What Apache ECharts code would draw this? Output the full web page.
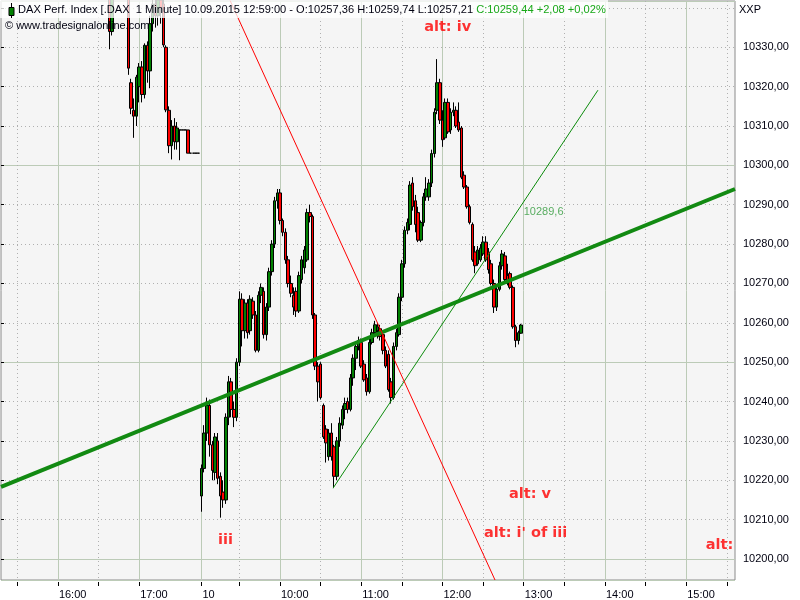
<!DOCTYPE html>
<html><head><meta charset="utf-8">
<script src="https://cdn.jsdelivr.net/npm/echarts@6/dist/echarts.min.js"></script>
<style>html,body{margin:0;padding:0;background:#fff}#c{width:800px;height:600px}</style>
</head><body><div id="c"></div>
<script>
// ---- sessions (2-minute slots) ----
const prevDay = '09.09', today = '10.09';
const prevSession = ['15:18', '17:44'];
const todaySession = ['09:02', '15:36'];
const dayLabel = '10';

// ---- previous day candles, 16:38 .. 17:44 (null = above visible range) ----
const prevFirst = '16:38';
const prevOpen  = [10345,10334,null,null,null,null,null,10345,10321,10314,10312.5,10320,10325,10318,10330.5,10324,10336,10341,10338,10342,10341,10330,10314,10305,10310,10306,10309,10309,10309,10309,10303.1,10303.1,10303.1,10303.1];
const prevHigh  = [10346,10346,null,null,null,null,null,10346,10322,10317,10323,10326,10326.5,10331,10331.5,10338,10344,10344,10345,10345,10344,10330.5,10315,10311.5,10312,10311,10309,10309,10309,10309,10303.1,10303.1,10303.1,10303.1];
const prevLow   = [10329.5,10333,null,null,null,null,null,10323,10313,10307,10310,10316,10316,10317,10321,10319.6,10334,10335,10335.5,10336,10330,10313.5,10303.1,10301.5,10304,10304,10301.3,10309,10309,10303.1,10303.1,10303.1,10303.1,10303.1];
const prevClose = [10334,10345,null,null,null,null,null,10324.7,10314.5,10312.5,10322.4,10325,10318,10330.5,10324,10336,10341,10338,10342,10340,10330.6,10314.1,10305,10310,10306,10309.5,10309,10309,10309,10303.1,10303.1,10303.1,10303.1,10303.1];

// ---- today candles, 09:02 .. 12:58 ----
const todayFirst = '09:02';
const todayOpen = [
 10216,10223,10232,10239,10229,10222,10230,10221,10217,10215,
 10236,10245,10238,10236,10250,10266,10258,10265,10258,10265.5,
 10262,10253,10267,10268,10257,10264,10273,10280,10291,10293,
 10286,10283,10276,10270,10267,10268,10263,10271,10274,10276,
 10288,10287,10262,10249,10249.5,10239,10233,10226,10232,10228.5,
 10221,10230,10234,10238,10240,10238,10246,10251,10254,10255,
 10249.5,10246,10242.5,10255,10257.5,10258,10258.5,10257,10253,10252,
 10245,10241,10254,10257,10266.5,10275,10283.5,10285,10295.5,10291,
 10288,10281,10285.5,10292,10292,10295.5,10303,10314,10321,10311.5,
 10307,10316,10309,10313.5,10314,10311,10309.5,10297.5,10294.5,10289.5,
 10285,10278,10275,10276,10277.5,10280.5,10278,10275,10270,10264,
 10268.5,10274.5,10277,10272,10272.5,10269,10259,10255.5,10257.36];
const todayHigh = [
 10224,10234,10241,10240.5,10230,10232,10232,10222,10220,10237,
 10246.5,10246,10240,10251,10268,10267.5,10266,10266,10267,10266.5,
 10263,10268,10270,10269,10265,10274,10281,10292,10294,10294,
 10286.5,10284,10277,10272,10269,10269,10273,10277,10279.5,10289,
 10290,10287.5,10262.5,10250,10250,10239.5,10234,10233,10234.5,10229,
 10231,10236,10239,10241,10241,10247,10252,10255,10256.5,10256,
 10250.5,10247,10256,10258.5,10260.5,10260,10259.5,10258,10254,10253,
 10246,10255,10258.5,10267.5,10276,10284.5,10286.5,10296,10297,10292.5,
 10289.5,10286,10293,10297,10296.5,10304,10314.5,10327,10322,10314,
 10317,10317,10314.5,10316,10315,10316,10310,10298.5,10295,10290,
 10285.5,10279.5,10279.5,10280,10282,10282,10279,10276,10271,10269.5,
 10275.5,10278.5,10278,10275,10273,10269.5,10259.5,10258,10259.74];
const todayLow = [
 10212,10222,10230,10226,10220,10220,10219,10210.5,10213,10214,
 10234,10236,10233.5,10235,10249,10254,10256,10256,10257,10261,
 10252.5,10252.5,10265,10256,10255.5,10263,10272,10279,10289,10285,
 10282,10275,10269,10266.5,10262,10261.5,10262.5,10270,10272.5,10275.5,
 10285.5,10261,10248,10240,10240.5,10230.5,10224.5,10225,10225,10218,
 10220,10228.5,10233,10235.5,10237,10237.5,10244,10248,10253,10248.5,
 10245,10241.5,10242,10254.5,10256.5,10256,10255.5,10252,10248.5,10242.5,
 10239.5,10240.5,10253,10256.5,10265.5,10274,10282.5,10283.5,10288.5,10283,
 10280.5,10280.5,10284.5,10291,10291,10294.5,10302,10313,10310.5,10304.7,
 10306.5,10308,10308,10312.5,10309.5,10308.5,10296.5,10294,10289,10285,
 10275.5,10272.6,10274.5,10275.5,10277,10275.5,10272.5,10269.5,10262.5,10263,
 10268,10273.5,10270,10269.5,10268.5,10258.5,10253.8,10254.5,10257.21];
const todayClose = [
 10223,10232,10239,10229,10222.5,10231,10220.5,10216,10215,10236,
 10245,10238,10236,10250,10266,10258,10265,10257.5,10266,10262,
 10253,10267,10269,10257,10264,10273,10280,10291,10293,10286,
 10283,10276,10270,10267.5,10264,10263,10272,10276,10278.5,10288,
 10287,10262,10249,10245,10241,10231,10229.5,10232,10226,10221,
 10230,10234.5,10238,10239.5,10238,10246,10251,10254,10255.5,10249,
 10245.5,10242.5,10255,10257.5,10259.5,10259,10256.5,10253,10249,10243,
 10241,10254,10257.5,10266.5,10275,10283.5,10285.5,10295,10289.5,10285,
 10281,10285.5,10292,10294,10295.5,10303,10313.5,10321,10311.5,10306.5,
 10316,10308.5,10313.5,10314,10310,10309,10297,10294.5,10289.5,10285.5,
 10276,10274.5,10278.5,10279,10280.5,10276,10273.5,10270,10264,10268.5,
 10274.5,10277.5,10271,10270,10269,10259,10255.5,10257.5,10259.44];

// ---- drawn trend lines: [slot index, price] ----
const trendThick = [[0, 10218.3], [271, 10294.0]];
const trendThin  = [[122.6, 10218.0], [220.4, 10319.1]];
const trendRed   = [[84.5, 10342.0], [182.4, 10194.66]];
const thinLineLabel = {text: '10289,6', slot: 193, price: 10288.1};

// ---- annotations ----
const noteTexts  = ['alt: iv', 'iii', 'alt: v', "alt: i' of iii", 'alt:'];
const noteSlots  = [164.9, 82.9, 195.3, 193.7, 265.3];
const notePrices = [10335.0, 10204.7, 10216.5, 10206.5, 10203.5];

// ---- price axis ----
const yMin = 10194.66, yMax = 10341.76;
const yLabelTop = 10330;

const headerMain = 'DAX Perf. Index [.DAX  1 Minute] 10.09.2015 12:59:00 - O:10257,36 H:10259,74 L:10257,21 ';
const headerChange = 'C:10259,44 +2,08 +0,02%';

// ---------- build ----------
function pad(n){return (n<10?'0':'')+n;}
function slots(day, s, e){
  const out=[]; let [h,m]=s.split(':').map(Number); const [eh,em]=e.split(':').map(Number);
  while(h*60+m<=eh*60+em){ out.push(day+' '+pad(h)+':'+pad(m)); m+=2; if(m>=60){m-=60;h++;} }
  return out;
}
const prevSlots = slots(prevDay, prevSession[0], prevSession[1]);
const todaySlots = slots(today, todaySession[0], todaySession[1]);
const categories = prevSlots.concat(todaySlots);
const dayStart = prevSlots.length;
const candle = categories.map(()=>'-');
function fill(day, first, O, H, L, C){
  const start = categories.indexOf(day+' '+first);
  O.forEach((o,k)=>{ if(o!=null) candle[start+k]=[o, C[k], L[k], H[k]]; });
}
fill(prevDay, prevFirst, prevOpen, prevHigh, prevLow, prevClose);
fill(today, todayFirst, todayOpen, todayHigh, todayLow, todayClose);

function tm(i){ return categories[i].slice(6); }
function inSession(i){ return i>=dayStart || tm(i) < '17:30'; }
function isHour(i){ return inSession(i) && tm(i).endsWith(':00'); }
function isHalf(i){ return inSession(i) && tm(i).endsWith(':30'); }

const FONT = 'Liberation Sans';
const chart = echarts.init(document.getElementById('c'), null, {renderer:'canvas'});
const option = {
  animation: false,
  backgroundColor: '#ffffff',
  grid: {left:1, right:65, top:1, bottom:20, show:true, backgroundColor:'#f5f5f5', borderColor:'#8a8a8a', borderWidth:1},
  xAxis: [
    {type:'category', data:categories, boundaryGap:false, position:'bottom',
     axisLine:{show:false}, axisTick:{show:false},
     axisLabel:{interval:(i)=>isHour(i)||i===dayStart, formatter:(v,i)=> i===dayStart?dayLabel:v.slice(6),
       align:'left', margin:9, padding:[0,0,0,1], fontSize:11, fontFamily:FONT, color:'#000010'},
     splitLine:{show:true, interval:(i)=>isHour(i)||i===dayStart, lineStyle:{color:'#bccbb7', width:1}}},
    {type:'category', data:categories, boundaryGap:false, position:'bottom', offset:2,
     axisLine:{show:false},
     axisTick:{show:true, interval:(i)=>isHour(i)||isHalf(i)||i===dayStart, length:4, lineStyle:{color:'#000', width:1}},
     axisLabel:{show:false},
     splitLine:{show:true, interval:(i)=>isHalf(i), lineStyle:{color:'#b0b0b0', width:1, type:[1,3]}}},
    {type:'value', min:0, max:categories.length-1, show:false}
  ],
  yAxis: [
    {type:'value', position:'right', min:yMin, max:yMax, splitNumber:15, minInterval:10, maxInterval:10, offset:5,
     axisLine:{show:false}, axisTick:{show:true, length:3, lineStyle:{color:'#000'}},
     axisLabel:{showMinLabel:false, showMaxLabel:false, margin:3, fontSize:11, fontFamily:FONT, color:'#000010',
       formatter:(v)=> v>yLabelTop ? '' : v.toFixed(2).replace('.', ',')},
     splitLine:{show:true, lineStyle:{color:'#b0b0b0', width:1, type:[1,3]}}},
    {type:'value', position:'right', min:yMin, max:yMax, splitNumber:3, minInterval:50, maxInterval:50,
     axisLine:{show:false}, axisTick:{show:false}, axisLabel:{show:false},
     splitLine:{show:true, lineStyle:{color:'#bccbb7', width:1}}}
  ],
  series: [
    {type:'candlestick', xAxisIndex:0, yAxisIndex:0, data:candle, barWidth:3, clip:true, z:2,
     itemStyle:{color:'#008000', color0:'#ff0000', borderColor:'#000', borderColor0:'#000', borderColorDoji:'#000', borderWidth:1}},
    {type:'line', xAxisIndex:2, yAxisIndex:0, data:trendThick, symbol:'none', clip:true, z:3,
     lineStyle:{color:'#128a12', width:4}},
    {type:'line', xAxisIndex:2, yAxisIndex:0, data:trendThin, symbol:'none', clip:true, z:3,
     lineStyle:{color:'#0c8c0c', width:1}},
    {type:'line', xAxisIndex:2, yAxisIndex:0, data:trendRed, symbol:'none', clip:true, z:3,
     lineStyle:{color:'#ff0000', width:1}},
    {type:'scatter', xAxisIndex:2, yAxisIndex:0, symbolSize:0, z:4,
     data:[{value:[thinLineLabel.slot, thinLineLabel.price], name:thinLineLabel.text}],
     label:{show:true, position:'right', distance:0, formatter:(p)=>p.name, fontSize:11, fontFamily:FONT, color:'#2f9a3a'}},
    {type:'scatter', xAxisIndex:2, yAxisIndex:0, symbolSize:0, z:4,
     data:noteTexts.map((t,k)=>({value:[noteSlots[k], notePrices[k]], name:t})),
     label:{show:true, position:'inside', formatter:(p)=>p.name, fontSize:14.5, fontWeight:'bold', fontFamily:'DejaVu Sans', color:'#ff0000'}}
  ],
  graphic: [
    {type:'rect', z:100, shape:{x:0, y:0, width:608, height:18}, style:{fill:'rgba(255,255,255,0.78)'}},
    {type:'line', z:101, shape:{x1:11.5, y1:3, x2:11.5, y2:18}, style:{stroke:'#000', lineWidth:1}},
    {type:'rect', z:102, shape:{x:9, y:7.5, width:5, height:8}, style:{fill:'#008000', stroke:'#000', lineWidth:1}},
    {type:'text', z:102, x:18, y:10, style:{text:'{k|'+headerMain+'}{g|'+headerChange+'}', verticalAlign:'middle',
       rich:{k:{fontSize:11.1, fontFamily:FONT, fill:'#000010'}, g:{fontSize:11.1, fontFamily:FONT, fill:'#18a818'}}}},
    {type:'text', z:102, x:5, y:26, style:{text:'\u00a9 www.tradesignalonline.com', fontSize:11, fontFamily:FONT, fill:'#000010', verticalAlign:'middle'}},
    {type:'text', z:102, x:739, y:10, style:{text:'XXP', fontSize:11, fontFamily:FONT, fill:'#000010', verticalAlign:'middle'}}
  ]
};
chart.setOption(option);
</script>
</body></html>
